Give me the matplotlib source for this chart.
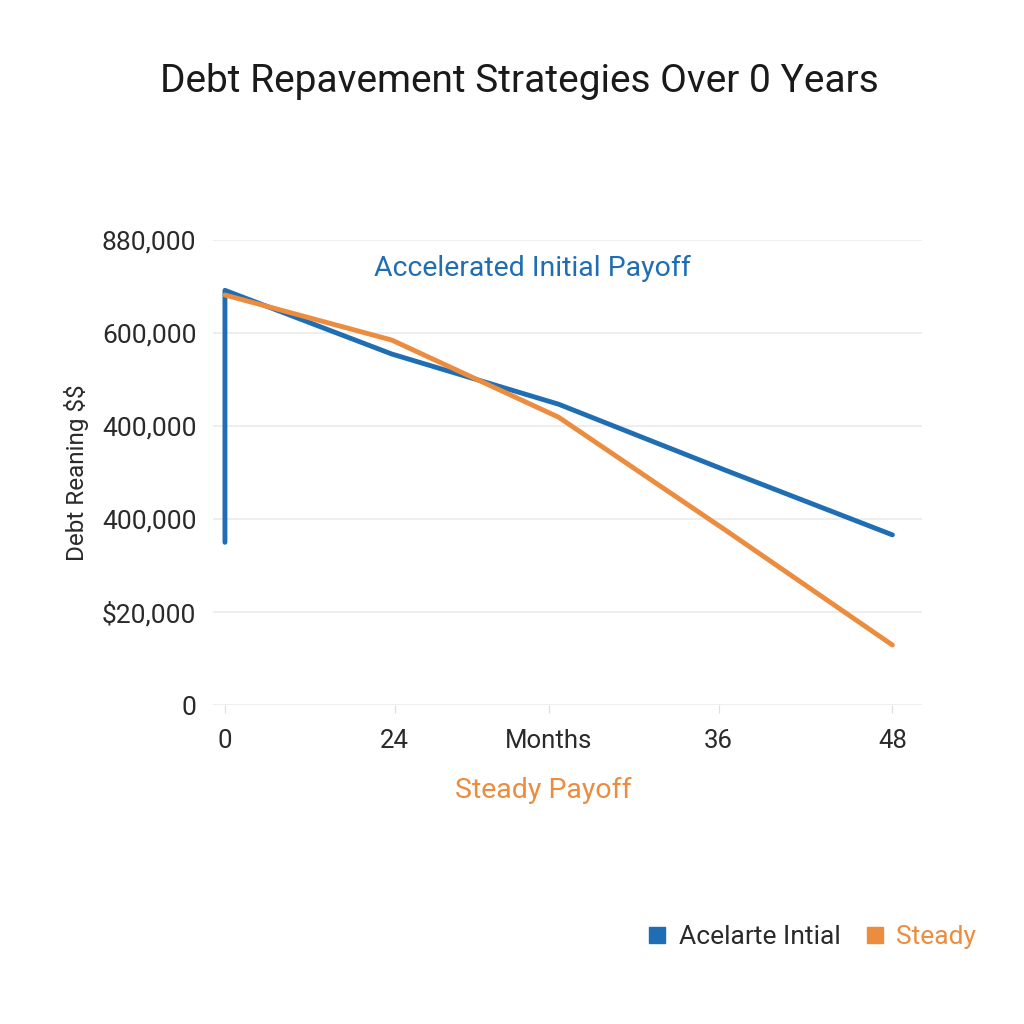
import matplotlib.pyplot as plt

plt.rcParams['font.family'] = ['Roboto', 'DejaVu Sans']
plt.rcParams['text.parse_math'] = False

# values
months_accel = [0, 0, 12, 24, 36, 48]
debt_accel = [350000, 892000, 755000, 647000, 505000, 366000]
months_steady = [0, 12, 24, 36, 48]
debt_steady = [882000, 785000, 619000, 376000, 129000]

x_ticks = [0, 12.2, 23.3, 35.5, 48]
x_labels = ['0', '24', 'Months', '36', '48']
y_ticks = [0, 200000, 400000, 600000, 800000, 1000000]
y_labels = ['0', '$20,000', '400,000', '400,000', '600,000', '880,000']

blue = '#1f6eb4'
orange = '#ec8c3e'

fig = plt.figure(figsize=(10.24, 10.24), dpi=100)
ax = fig.add_axes([0.208, 0.3115, 0.692, 0.454])

ax.plot(months_accel, debt_accel, color=blue, lw=3.5, solid_capstyle='round',
        clip_on=False, zorder=3, label='Acelarte Intial')
ax.plot(months_steady, debt_steady, color=orange, lw=3.5, solid_capstyle='round',
        clip_on=False, zorder=4, label='Steady')

ax.set_xlim(-0.86, 50.1)
ax.set_ylim(0, 1000000)
ax.set_xticks(x_ticks)
ax.set_xticklabels(x_labels)
ax.set_yticks(y_ticks)
ax.set_yticklabels(y_labels)

for s in ax.spines.values():
    s.set_visible(False)
ax.grid(axis='y', color='#ebebeb', lw=1.2)
ax.tick_params(axis='y', length=0, pad=12, labelsize=19, labelcolor='#2a2a2a')
ax.tick_params(axis='x', length=6, color='#dddddd', pad=11, labelsize=18.5,
               labelcolor='#2a2a2a')

ax.set_ylabel('Debt Reaning $$', fontsize=17.5, color='#2a2a2a', labelpad=9)

fig.text(0.507, 0.92, 'Debt Repavement Strategies Over 0 Years',
         ha='center', va='center', fontsize=28, color='#1a1a1a')
fig.text(0.52, 0.738, 'Accelerated Initial Payoff', ha='center', va='center',
         fontsize=20.5, color=blue)
fig.text(0.531, 0.228, 'Steady Payoff', ha='center', va='center',
         fontsize=20.5, color=orange)

h1 = plt.Line2D([], [], marker='s', ls='', color=blue, markersize=11)
h2 = plt.Line2D([], [], marker='s', ls='', color=orange, markersize=11)
leg = fig.legend([h1, h2], ['Acelarte Intial', 'Steady'], loc='center',
                 bbox_to_anchor=(0.791, 0.085), ncol=2, frameon=False,
                 fontsize=19, handletextpad=0.3, columnspacing=0.8,
                 handlelength=1.0)
leg.get_texts()[0].set_color('#2a2a2a')
leg.get_texts()[1].set_color(orange)

fig.savefig('out.png', dpi=100, facecolor='white')
